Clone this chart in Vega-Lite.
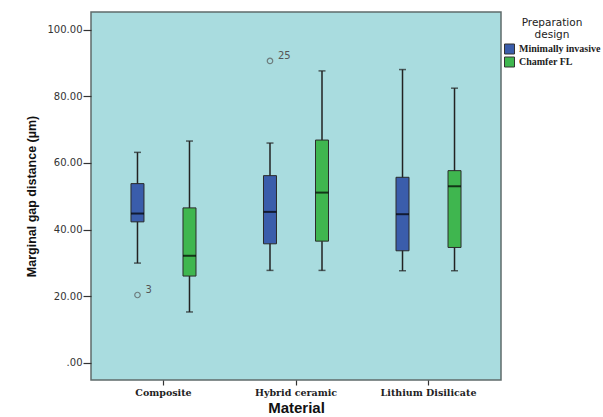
{
  "$schema": "https://vega.github.io/schema/vega-lite/v6.json",
  "width": 410,
  "height": 368,
  "autosize": {"type": "none"},
  "padding": {"left": 91, "top": 12, "right": 102, "bottom": 37},
  "background": "white",
  "config": {
    "view": {"fill": "#a9dcdf", "stroke": "#5f6b6b", "strokeWidth": 1.5},
    "axisY": {
      "domain": false, "grid": false, "tickColor": "#333", "tickSize": 8, "tickWidth": 1.2,
      "labelFont": "DejaVu Sans", "labelFontSize": 10, "labelColor": "#333", "labelPadding": 1,
      "titleFont": "Liberation Sans", "titleFontSize": 12.5, "titleFontWeight": "bold", "titleColor": "#111", "titlePadding": 9
    },
    "axisX": {
      "domain": false, "grid": false, "tickColor": "#333", "tickSize": 5, "tickWidth": 1.2,
      "labelFont": "DejaVu Serif", "labelFontSize": 9.5, "labelFontWeight": "bold", "labelColor": "#222", "labelAngle": 0, "labelPadding": 2,
      "titleFont": "Liberation Sans", "titleFontSize": 15, "titleFontWeight": "bold", "titleColor": "#111", "titlePadding": 4
    }
  },
  "datasets": {
    "stats": [
      {"Material": "Composite", "Design": "Minimally invasive", "lower": 29.9, "q1": 42.3, "median": 44.8, "q3": 53.8, "upper": 63.2},
      {"Material": "Composite", "Design": "Chamfer FL", "lower": 15.2, "q1": 26.0, "median": 32.1, "q3": 46.5, "upper": 66.6},
      {"Material": "Hybrid ceramic", "Design": "Minimally invasive", "lower": 27.7, "q1": 35.7, "median": 45.3, "q3": 56.2, "upper": 66.0},
      {"Material": "Hybrid ceramic", "Design": "Chamfer FL", "lower": 27.7, "q1": 36.5, "median": 51.1, "q3": 66.9, "upper": 87.7},
      {"Material": "Lithium Disilicate", "Design": "Minimally invasive", "lower": 27.6, "q1": 33.6, "median": 44.6, "q3": 55.7, "upper": 88.1},
      {"Material": "Lithium Disilicate", "Design": "Chamfer FL", "lower": 27.6, "q1": 34.6, "median": 53.0, "q3": 57.7, "upper": 82.5}
    ],
    "outliers": [
      {"Material": "Composite", "Design": "Minimally invasive", "value": 20.3, "label": "3"},
      {"Material": "Hybrid ceramic", "Design": "Minimally invasive", "value": 90.7, "label": "25"}
    ]
  },
  "encoding": {
    "x": {
      "field": "Material", "type": "nominal",
      "sort": ["Composite", "Hybrid ceramic", "Lithium Disilicate"],
      "scale": {"paddingInner": 0, "paddingOuter": 0.047},
      "title": "Material"
    },
    "xOffset": {
      "field": "Design", "type": "nominal",
      "sort": ["Minimally invasive", "Chamfer FL"],
      "scale": {"paddingInner": 0, "paddingOuter": 0.274}
    }
  },
  "layer": [
    {
      "data": {"name": "stats"},
      "mark": {"type": "rule", "color": "#222", "strokeWidth": 1.5},
      "encoding": {
        "y": {"field": "lower", "type": "quantitative", "scale": {"domain": [-5.26, 105.41], "nice": false, "zero": false},
          "title": "Marginal gap distance (µm)",
          "axis": {"values": [0, 20, 40, 60, 80, 100], "labelExpr": "datum.value == 0 ? '.00' : format(datum.value, '.2f')"}},
        "y2": {"field": "upper"}
      }
    },
    {
      "data": {"name": "stats"},
      "mark": {"type": "bar", "size": 13, "stroke": "#2b2b2b", "strokeWidth": 1},
      "encoding": {
        "y": {"field": "q1", "type": "quantitative", "title": "Marginal gap distance (µm)"},
        "y2": {"field": "q3"},
        "fill": {
          "field": "Design", "type": "nominal",
          "scale": {"domain": ["Minimally invasive", "Chamfer FL"], "range": ["#3a5dab", "#3fb64f"]},
          "legend": {
            "orient": "none", "legendX": 413, "legendY": 6,
            "title": ["Preparation", "design"],
            "titleFont": "DejaVu Sans", "titleFontSize": 10.5, "titleFontWeight": "normal", "titleColor": "#222",
            "titleAlign": "center", "titleAnchor": "middle", "titleLineHeight": 12, "titlePadding": 3,
            "labelFont": "Liberation Serif", "labelFontWeight": "bold", "labelFontSize": 10, "labelColor": "#222",
            "symbolType": "square", "symbolSize": 100, "symbolStrokeColor": "#333", "symbolStrokeWidth": 1,
            "rowPadding": -4, "labelOffset": 4, "labelLimit": 300
          }
        }
      }
    },
    {
      "data": {"name": "stats"},
      "mark": {"type": "tick", "color": "#000", "thickness": 2, "size": 13},
      "encoding": {"y": {"field": "median", "type": "quantitative", "title": "Marginal gap distance (µm)"}}
    },
    {
      "data": {"name": "stats"},
      "mark": {"type": "tick", "color": "#222", "thickness": 1.5, "size": 7},
      "encoding": {"y": {"field": "lower", "type": "quantitative", "title": "Marginal gap distance (µm)"}}
    },
    {
      "data": {"name": "stats"},
      "mark": {"type": "tick", "color": "#222", "thickness": 1.5, "size": 7},
      "encoding": {"y": {"field": "upper", "type": "quantitative", "title": "Marginal gap distance (µm)"}}
    },
    {
      "data": {"name": "outliers"},
      "mark": {"type": "point", "shape": "circle", "filled": false, "size": 30, "stroke": "#555", "strokeWidth": 1.2},
      "encoding": {"y": {"field": "value", "type": "quantitative", "title": "Marginal gap distance (µm)"}}
    },
    {
      "data": {"name": "outliers"},
      "mark": {"type": "text", "dx": 8, "dy": -5, "fontSize": 10, "font": "DejaVu Sans", "color": "#555", "align": "left"},
      "encoding": {
        "y": {"field": "value", "type": "quantitative", "title": "Marginal gap distance (µm)"},
        "text": {"field": "label"}
      }
    }
  ]
}
